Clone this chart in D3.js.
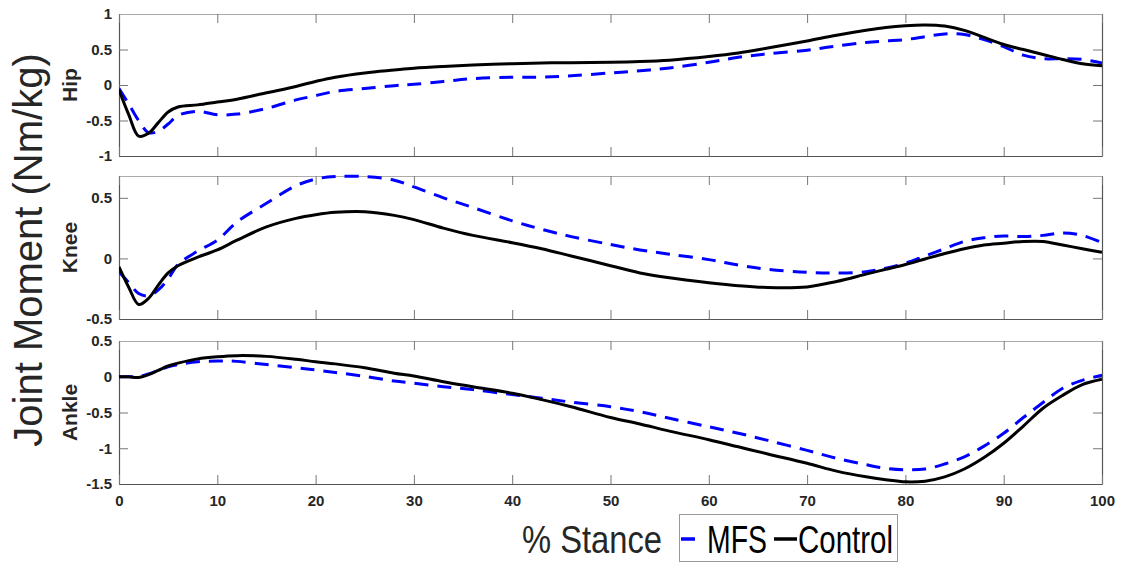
<!DOCTYPE html>
<html>
<head>
<meta charset="utf-8">
<script src="https://cdn.jsdelivr.net/npm/d3@7"></script>
<style>
  html, body { margin: 0; padding: 0; background: #fff; }
  svg { display: block; font-family: "Liberation Sans", Arial, Helvetica, sans-serif; }
</style>
</head>
<body>
<svg id="chart" width="1125" height="563"></svg>
<script>
// % of stance phase at which each joint moment sample is given
const stance = [0, 1, 2, 3, 4, 5, 6, 8, 10, 12, 15, 18, 20, 22, 25, 28, 30, 33, 36, 40, 43, 46,
  50, 53, 56, 60, 63, 66, 70, 73, 76, 78, 80, 82, 84, 86, 88, 90, 92, 94, 96, 98, 100];

// Hip moment (Nm/kg)
const hipMFS = [-0.05, -0.27, -0.50, -0.67, -0.65, -0.55, -0.43, -0.37, -0.42, -0.41, -0.33, -0.21, -0.15, -0.09,
  -0.05, -0.01, 0.01, 0.05, 0.09, 0.11, 0.11, 0.13, 0.17, 0.20, 0.24, 0.32, 0.39, 0.44, 0.49, 0.55, 0.60, 0.62,
  0.64, 0.68, 0.72, 0.71, 0.64, 0.54, 0.42, 0.37, 0.37, 0.36, 0.31];
const hipControl = [-0.07, -0.42, -0.72, -0.68, -0.53, -0.38, -0.31, -0.28, -0.24, -0.20, -0.11, -0.02, 0.05, 0.11,
  0.17, 0.21, 0.235, 0.26, 0.28, 0.30, 0.31, 0.315, 0.32, 0.33, 0.35, 0.40, 0.45, 0.52, 0.62, 0.70, 0.77, 0.81,
  0.835, 0.845, 0.83, 0.77, 0.67, 0.57, 0.50, 0.43, 0.36, 0.30, 0.27];

// Knee moment (Nm/kg)
const kneeMFS = [-0.11, -0.20, -0.29, -0.31, -0.26, -0.17, -0.05, 0.06, 0.15, 0.30, 0.455, 0.60, 0.655, 0.675,
  0.675, 0.645, 0.59, 0.50, 0.42, 0.31, 0.24, 0.18, 0.115, 0.07, 0.035, -0.01, -0.055, -0.09, -0.115, -0.12,
  -0.11, -0.08, -0.04, 0.02, 0.08, 0.14, 0.17, 0.185, 0.18, 0.19, 0.21, 0.19, 0.13];
const kneeControl = [-0.07, -0.24, -0.38, -0.33, -0.22, -0.12, -0.06, 0.01, 0.07, 0.15, 0.26, 0.33, 0.36, 0.38,
  0.385, 0.355, 0.32, 0.25, 0.19, 0.13, 0.08, 0.02, -0.06, -0.12, -0.16, -0.20, -0.225, -0.24, -0.235, -0.19,
  -0.13, -0.09, -0.05, -0.005, 0.04, 0.08, 0.11, 0.125, 0.14, 0.14, 0.11, 0.08, 0.05];

// Ankle moment (Nm/kg)
const ankleMFS = [0.0, 0.0, 0.0, 0.04, 0.09, 0.14, 0.17, 0.21, 0.22, 0.215, 0.17, 0.125, 0.095, 0.06, 0.005,
  -0.06, -0.09, -0.14, -0.18, -0.25, -0.30, -0.355, -0.42, -0.49, -0.58, -0.70, -0.79, -0.89, -1.03, -1.14,
  -1.23, -1.28, -1.30, -1.29, -1.22, -1.12, -0.97, -0.79, -0.57, -0.36, -0.16, -0.05, 0.02];
const ankleControl = [0.0, 0.0, -0.01, 0.03, 0.09, 0.15, 0.19, 0.25, 0.28, 0.295, 0.285, 0.245, 0.21, 0.18, 0.125,
  0.05, 0.01, -0.07, -0.14, -0.23, -0.32, -0.42, -0.57, -0.66, -0.76, -0.88, -0.98, -1.08, -1.21, -1.32,
  -1.40, -1.44, -1.47, -1.46, -1.40, -1.29, -1.13, -0.93, -0.69, -0.44, -0.26, -0.11, -0.035];

const xTicks = [0, 10, 20, 30, 40, 50, 60, 70, 80, 90, 100];
const hipTicks = [-1, -0.5, 0, 0.5, 1];
const kneeTicks = [-0.5, 0, 0.5];
const ankleTicks = [-1.5, -1, -0.5, 0, 0.5];

const joints = ["Hip", "Knee", "Ankle"];
const seriesNames = ["MFS", "Control"];

const panels = [
  { name: joints[0], domain: [-1, 1], ticks: hipTicks, mfs: hipMFS, control: hipControl, top: 14, bottom: 156 },
  { name: joints[1], domain: [-0.5, 0.68], ticks: kneeTicks, mfs: kneeMFS, control: kneeControl, top: 176, bottom: 319 },
  { name: joints[2], domain: [-1.5, 0.5], ticks: ankleTicks, mfs: ankleMFS, control: ankleControl, top: 341, bottom: 484 }
];

const svg = d3.select("#chart");
const left = 119, right = 1102;
const textColor = "#262626";

const x = d3.scaleLinear().domain([0, 100]).range([left, right]);
const fmt = d => String(d);

panels.forEach((p, i) => {
  const y = d3.scaleLinear().domain(p.domain).range([p.bottom, p.top]);
  const g = svg.append("g");
  const clipId = "clip" + i;
  svg.append("clipPath").attr("id", clipId)
    .append("rect").attr("x", left).attr("y", p.top - 2).attr("width", right - left).attr("height", p.bottom - p.top + 4);

  // axes: inward ticks on all four sides
  const axL = g.append("g").attr("transform", `translate(${left},0)`)
    .call(d3.axisLeft(y).tickValues(p.ticks).tickFormat(fmt).tickSize(-9).tickSizeOuter(0).tickPadding(7));
  const axR = g.append("g").attr("transform", `translate(${right},0)`)
    .call(d3.axisRight(y).tickValues(p.ticks).tickFormat("").tickSize(-9).tickSizeOuter(0));
  const axT = g.append("g").attr("transform", `translate(0,${p.top})`)
    .call(d3.axisTop(x).tickValues(xTicks).tickFormat("").tickSize(-9).tickSizeOuter(0));
  const axB = g.append("g").attr("transform", `translate(0,${p.bottom})`)
    .call(d3.axisBottom(x).tickValues(xTicks).tickFormat(i === 2 ? fmt : "").tickSize(-9).tickSizeOuter(0).tickPadding(11));

  [axL, axR, axB].forEach(a => a.select(".domain").attr("stroke", "#555").attr("stroke-width", 1.2));
  axT.select(".domain").attr("stroke", "#aaa").attr("stroke-width", 1.2);
  [axL, axR, axT, axB].forEach(a => {
    a.selectAll(".tick line").attr("stroke", "#777").attr("stroke-width", 1);
    a.selectAll(".tick text").attr("fill", textColor).attr("font-size", 15).attr("font-weight", "bold")
      .attr("font-family", "'Liberation Sans', Arial, sans-serif");
  });

  const line = d3.line().x((d, k) => x(stance[k])).y(d => y(d)).curve(d3.curveCatmullRom.alpha(0.5));
  const plot = g.append("g").attr("clip-path", `url(#${clipId})`);
  plot.append("path").datum(p.mfs).attr("d", line)
    .attr("fill", "none").attr("stroke", "#0000ff").attr("stroke-width", 3).attr("stroke-dasharray", "14,9");
  plot.append("path").datum(p.control).attr("d", line)
    .attr("fill", "none").attr("stroke", "#000").attr("stroke-width", 3).attr("stroke-linejoin", "round");

  // joint label
  svg.append("text")
    .attr("transform", `translate(77,${(p.top + p.bottom) / 2}) rotate(-90)`)
    .attr("text-anchor", "middle").attr("font-size", 21).attr("font-weight", "bold").attr("fill", textColor)
    .text(p.name);
});

// shared y title
svg.append("text")
  .attr("transform", "translate(42,250) rotate(-90)")
  .attr("text-anchor", "middle").attr("font-size", 40).attr("fill", textColor)
  .text("Joint Moment (Nm/kg)");

// x title
svg.append("text").attr("x", 522).attr("y", 553).attr("font-size", 39).attr("fill", textColor)
  .attr("textLength", 140).attr("lengthAdjust", "spacingAndGlyphs")
  .text("% Stance");

// legend
const lg = svg.append("g");
lg.append("rect").attr("x", 679.5).attr("y", 514.5).attr("width", 218).attr("height", 47)
  .attr("fill", "#fff").attr("stroke", "#999").attr("stroke-width", 1);
lg.append("line").attr("x1", 681).attr("x2", 703).attr("y1", 539).attr("y2", 539)
  .attr("stroke", "#0000ff").attr("stroke-width", 3.5).attr("stroke-dasharray", "14,9");
lg.append("text").attr("x", 707).attr("y", 553).attr("font-size", 39).attr("fill", "#000")
  .attr("textLength", 60).attr("lengthAdjust", "spacingAndGlyphs").text(seriesNames[0]);
lg.append("line").attr("x1", 774).attr("x2", 797).attr("y1", 539).attr("y2", 539)
  .attr("stroke", "#000").attr("stroke-width", 3.5);
lg.append("text").attr("x", 798).attr("y", 553).attr("font-size", 39).attr("fill", "#000")
  .attr("textLength", 95).attr("lengthAdjust", "spacingAndGlyphs").text(seriesNames[1]);
</script>
</body>
</html>
